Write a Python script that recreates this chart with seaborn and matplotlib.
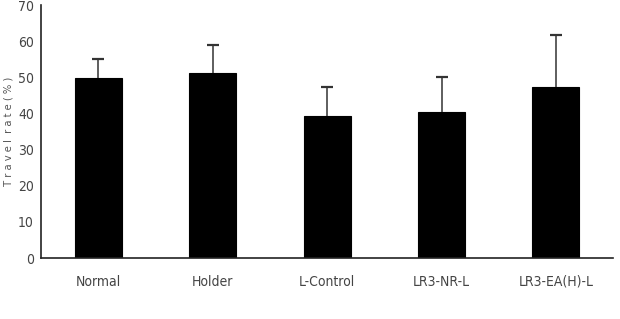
import numpy as np
import pandas as pd
import matplotlib
matplotlib.use("Agg")
import matplotlib.pyplot as plt
import seaborn as sns

groups = ["Normal", "Holder", "L-Control", "LR3-NR-L", "LR3-EA(H)-L"]
travel_rate = [49.7, 51.1, 39.4, 40.3, 47.4]
err_upper = [5.5, 7.8, 7.8, 9.7, 14.4]

sns.set_style("white")
plt.rcParams["font.family"] = ["DejaVu Sans"]
plt.rcParams["font.stretch"] = "condensed"

df = pd.DataFrame({"group": groups, "rate": travel_rate})

fig = plt.figure(figsize=(6.2, 3.19), dpi=100)
ax = fig.add_axes([0.066, 0.191, 0.923, 0.793])

sns.barplot(data=df, x="group", y="rate", color="black", width=0.41,
            edgecolor="black", linewidth=0.8, ax=ax)
eb = ax.errorbar(np.arange(len(groups)), travel_rate,
                 yerr=[np.zeros(len(groups)), err_upper],
                 fmt="none", ecolor="#333333", elinewidth=1.1, capsize=4, capthick=1.6)
# only keep the upper cap
eb[1][0].set_visible(False)

ax.set_xlim(-0.5, 4.5)
ax.set_ylim(0, 70)
ax.set_yticks(range(0, 71, 10))
ax.set_xticks(np.arange(-0.5, 4.6, 1), minor=True)
ax.tick_params(axis="x", which="major", length=0, pad=12, labelsize=10, labelcolor="#444444")
ax.tick_params(axis="x", which="minor", direction="in", length=3, width=1, color="#333333")
ax.tick_params(axis="y", direction="in", length=3, width=1, color="#333333",
               labelsize=10, labelcolor="#444444", pad=5)
ax.set_xlabel("")
ax.set_ylabel("T r a v e l  r a t e ( % )", fontsize=8, color="#555555", labelpad=3)
sns.despine(ax=ax)
for s in ["left", "bottom"]:
    ax.spines[s].set_color("#222222")
    ax.spines[s].set_linewidth(1.2)

fig.savefig("out.png", dpi=100)
